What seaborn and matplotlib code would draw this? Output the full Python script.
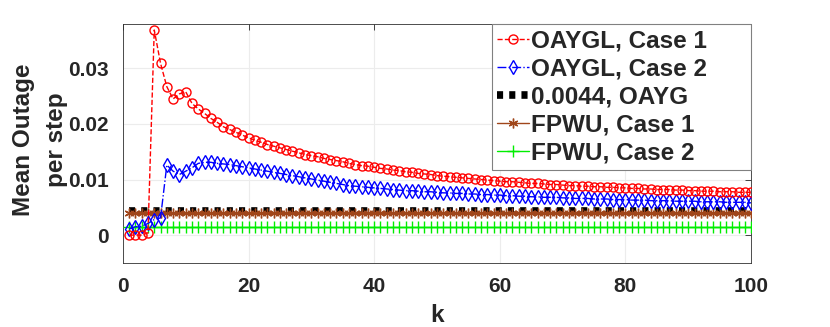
import numpy as np
import pandas as pd
import matplotlib
matplotlib.use("Agg")
import matplotlib.pyplot as plt
import seaborn as sns

k = list(range(1, 101))

oaygl_case1 = [0.0, 0.0, 0.0, 0.0004, 0.0369, 0.0309, 0.0267, 0.0245, 0.0254, 0.0258,
               0.0237, 0.0227, 0.0219, 0.0210, 0.0203,
               0.0195, 0.0190, 0.0185, 0.0180, 0.0175, 0.0171, 0.0167, 0.0163, 0.0160, 0.0157,
               0.0154, 0.0151, 0.0148, 0.0145, 0.0143, 0.0141, 0.0138, 0.0136, 0.0134, 0.0132,
               0.0129, 0.0127, 0.0125, 0.0124, 0.0122, 0.0120, 0.0119, 0.0117, 0.0116, 0.0114,
               0.0113, 0.0111, 0.0110, 0.0109, 0.0107, 0.0106, 0.0105, 0.0104, 0.0103, 0.0102,
               0.0101, 0.0100, 0.0099, 0.0098, 0.0097, 0.0096, 0.0096, 0.0095, 0.0094, 0.0093,
               0.0093, 0.0092, 0.0091, 0.0091, 0.0090, 0.0089, 0.0089, 0.0088, 0.0088, 0.0087,
               0.0087, 0.0086, 0.0086, 0.0085, 0.0085, 0.0084, 0.0084, 0.0083, 0.0083, 0.0082,
               0.0082, 0.0082, 0.0081, 0.0081, 0.0080, 0.0080, 0.0079, 0.0079, 0.0079, 0.0078,
               0.0078, 0.0078, 0.0077, 0.0077, 0.0077]

oaygl_case2 = [0.0011, 0.0015, 0.0016, 0.0021, 0.0028, 0.0031, 0.0126, 0.0115, 0.0109, 0.0115,
               0.0121, 0.0129, 0.0131, 0.0131, 0.0129,
               0.0128, 0.0127, 0.0125, 0.0123, 0.0121, 0.0119, 0.0117, 0.0115, 0.0113, 0.0111,
               0.0109, 0.0107, 0.0105, 0.0103, 0.0101, 0.0099, 0.0097, 0.0095, 0.0093, 0.0091,
               0.0089, 0.0088, 0.0087, 0.0086, 0.0085, 0.0084, 0.0083, 0.0082, 0.0081, 0.0080,
               0.0080, 0.0079, 0.0078, 0.0078, 0.0077, 0.0076, 0.0076, 0.0075, 0.0075, 0.0074,
               0.0074, 0.0073, 0.0073, 0.0072, 0.0072, 0.0071, 0.0071, 0.0070, 0.0070, 0.0069,
               0.0069, 0.0068, 0.0068, 0.0068, 0.0067, 0.0067, 0.0066, 0.0066, 0.0066, 0.0065,
               0.0065, 0.0065, 0.0064, 0.0064, 0.0064, 0.0063, 0.0063, 0.0063, 0.0062, 0.0062,
               0.0062, 0.0062, 0.0061, 0.0061, 0.0061, 0.0061, 0.0060, 0.0060, 0.0060, 0.0060,
               0.0059, 0.0059, 0.0059, 0.0059, 0.0058]

oayg_value = 0.0044
fpwu_case1_value = 0.0040
fpwu_case2_value = 0.0014

oayg = [oayg_value] * len(k)
fpwu_case1 = [fpwu_case1_value] * len(k)
fpwu_case2 = [fpwu_case2_value] * len(k)

labels = ["OAYGL, Case 1", "OAYGL, Case 2", "0.0044, OAYG", "FPWU, Case 1", "FPWU, Case 2"]
x_ticks = [0, 20, 40, 60, 80, 100]
y_ticks = [0, 0.01, 0.02, 0.03]
y_tick_labels = ["0", "0.01", "0.02", "0.03"]

sns.set_style("white")
plt.rcParams["font.family"] = ["Liberation Sans", "DejaVu Sans"]
plt.rcParams["font.weight"] = "bold"

fig = plt.figure(figsize=(8.3, 3.27), dpi=100)
ax = fig.add_axes([0.148, 0.196, 0.757, 0.731])

df1 = pd.DataFrame({"k": k, "v": oaygl_case1})
df2 = pd.DataFrame({"k": k, "v": oaygl_case2})
df3 = pd.DataFrame({"k": k, "v": oayg})
df4 = pd.DataFrame({"k": k, "v": fpwu_case1})
df5 = pd.DataFrame({"k": k, "v": fpwu_case2})

brown = "#a0461a"
green = "#00ee00"

sns.lineplot(data=df1, x="k", y="v", ax=ax, color="red", linestyle="--", linewidth=1.0,
             marker="o", markersize=6.5, markerfacecolor="none", markeredgecolor="red",
             markeredgewidth=1.0, label=labels[0], zorder=5)
sns.lineplot(data=df2, x="k", y="v", ax=ax, color="blue", linestyle="-.", linewidth=1.0,
             marker="d", markersize=7, markerfacecolor="none", markeredgecolor="blue",
             markeredgewidth=1.0, label=labels[1], zorder=4)
sns.lineplot(data=df3, x="k", y="v", ax=ax, color="black", linewidth=5.5, dashes=False,
             label=labels[2], zorder=2)
sns.lineplot(data=df4, x="k", y="v", ax=ax, color=brown, linestyle="-", linewidth=1.0,
             marker=(6, 2, 0), markersize=7, markerfacecolor=brown, markeredgecolor=brown,
             markeredgewidth=1.0, label=labels[3], zorder=3)
sns.lineplot(data=df5, x="k", y="v", ax=ax, color=green, linestyle="-", linewidth=1.0,
             marker="+", markersize=8, markeredgecolor=green, markeredgewidth=1.0,
             label=labels[4], zorder=3)

# black dotted line style
blk = ax.get_lines()[2]
blk.set_linestyle((0, (0.8, 0.8)))
blk.set_dash_capstyle("butt")

ax.set_xlim(0, 100)
ax.set_ylim(-0.005, 0.038)
ax.set_xticks(x_ticks)
ax.set_yticks(y_ticks)
ax.set_yticklabels(y_tick_labels)
ax.grid(True, color="#ececec", linewidth=0.8)
ax.set_axisbelow(True)

ax.tick_params(direction="in", length=4, width=0.6, colors="#262626", labelsize=15,
               top=True, right=True, pad=10)
for lbl in ax.get_xticklabels() + ax.get_yticklabels():
    lbl.set_fontweight("bold")
for s in ax.spines.values():
    s.set_visible(True)
    s.set_color("#303030")
    s.set_linewidth(0.6)

ax.set_xlabel("k", fontsize=17.5, fontweight="bold", color="#262626", labelpad=6)
ax.set_ylabel("Mean Outage\nper step", fontsize=17.5, fontweight="bold", color="#262626",
              labelpad=0, multialignment="center", linespacing=1.55)
ax.yaxis.set_label_coords(-0.088, 0.515)

leg_left = 0.5876
leg = ax.legend(loc="upper right", bbox_to_anchor=(leg_left, 0.0, 1 - leg_left, 1.0),
                mode="expand", borderaxespad=0,
                fancybox=False, framealpha=1, edgecolor="#808080",
                prop={"weight": "bold", "size": 17.5}, handlelength=1.3, handletextpad=0.1,
                labelspacing=0.21, borderpad=0.22)
leg.get_frame().set_linewidth(0.8)

fig.savefig("out.png", dpi=100)
